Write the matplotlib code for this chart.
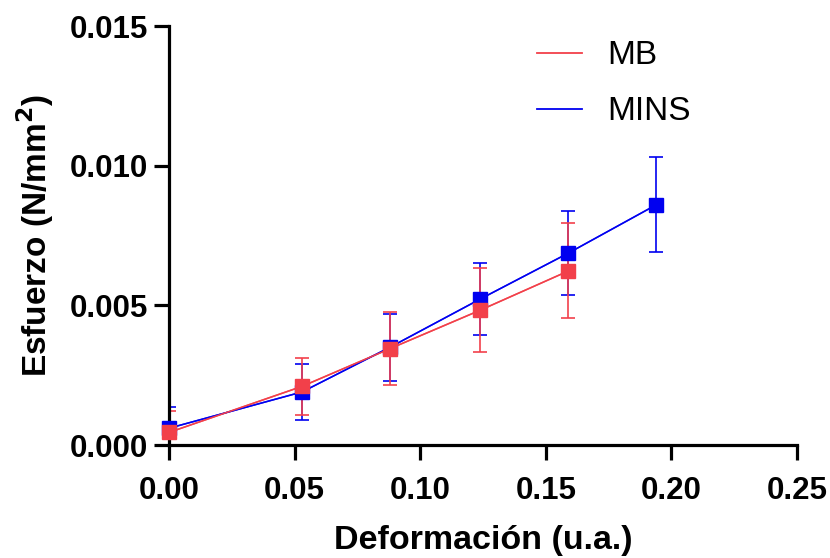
import matplotlib.pyplot as plt

plt.rcParams['font.family'] = ['Liberation Sans', 'DejaVu Sans']

# Deformación (u.a.)
strain_mb = [0.0, 0.053, 0.088, 0.124, 0.159]
strain_mins = [0.0, 0.053, 0.088, 0.124, 0.159, 0.194]

# Esfuerzo medio y desviación
stress_mb = [0.00045, 0.0021, 0.00345, 0.00483, 0.00623]
err_mb = [0.00075, 0.00103, 0.0013, 0.0015, 0.0017]

stress_mins = [0.0006, 0.0019, 0.0035, 0.00523, 0.00687, 0.0086]
err_mins = [0.00076, 0.001, 0.0012, 0.0013, 0.0015, 0.0017]

red = '#F2404A'
blue = '#0000F0'

fig = plt.figure(figsize=(8.3, 5.58), dpi=100)
ax = fig.add_axes([0.2036, 0.2025, 0.7566, 0.7509])

for x, y, e, c, lab in [(strain_mins, stress_mins, err_mins, blue, 'MINS'),
                        (strain_mb, stress_mb, err_mb, red, 'MB')]:
    ax.errorbar(x, y, yerr=e, color=c, lw=1.1, elinewidth=1.4, capsize=5,
                capthick=1.4, alpha=0.85)
    ax.plot(x, y, color=c, lw=1.1, marker='s', markersize=10.5, label=lab,
            clip_on=False, zorder=5)

ax.set_xlim(0, 0.25)
ax.set_ylim(0, 0.015)
ax.set_xticks([0.0, 0.05, 0.10, 0.15, 0.20, 0.25])
ax.set_xticklabels(['0.00', '0.05', '0.10', '0.15', '0.20', '0.25'])
ax.set_yticks([0.0, 0.005, 0.010, 0.015])
ax.set_yticklabels(['0.000', '0.005', '0.010', '0.015'])

for s in ['top', 'right']:
    ax.spines[s].set_visible(False)
for s in ['left', 'bottom']:
    ax.spines[s].set_linewidth(2.3)
ax.tick_params(width=2.3, length=11)
ax.tick_params(axis='x', pad=11)
ax.tick_params(axis='y', pad=4)
for t in ax.get_xticklabels() + ax.get_yticklabels():
    t.set_fontsize(22.5)
    t.set_fontweight('bold')

ax.set_xlabel('Deformación (u.a.)', fontsize=24.5, fontweight='bold', labelpad=14)
ax.set_ylabel('Esfuerzo (N/mm$^\\mathbf{2}$)', fontsize=24, fontweight='bold', labelpad=10)

lines = [plt.Line2D([], [], color=red, lw=1.3), plt.Line2D([], [], color=blue, lw=1.3)]
ax.legend(lines, ['MB', 'MINS'], loc='upper left', bbox_to_anchor=(0.586, 0.966),
          frameon=False, fontsize=24, labelspacing=0.75, handlelength=1.36,
          handletextpad=0.75, borderpad=0, borderaxespad=0)

fig.savefig('out.png', dpi=100)
